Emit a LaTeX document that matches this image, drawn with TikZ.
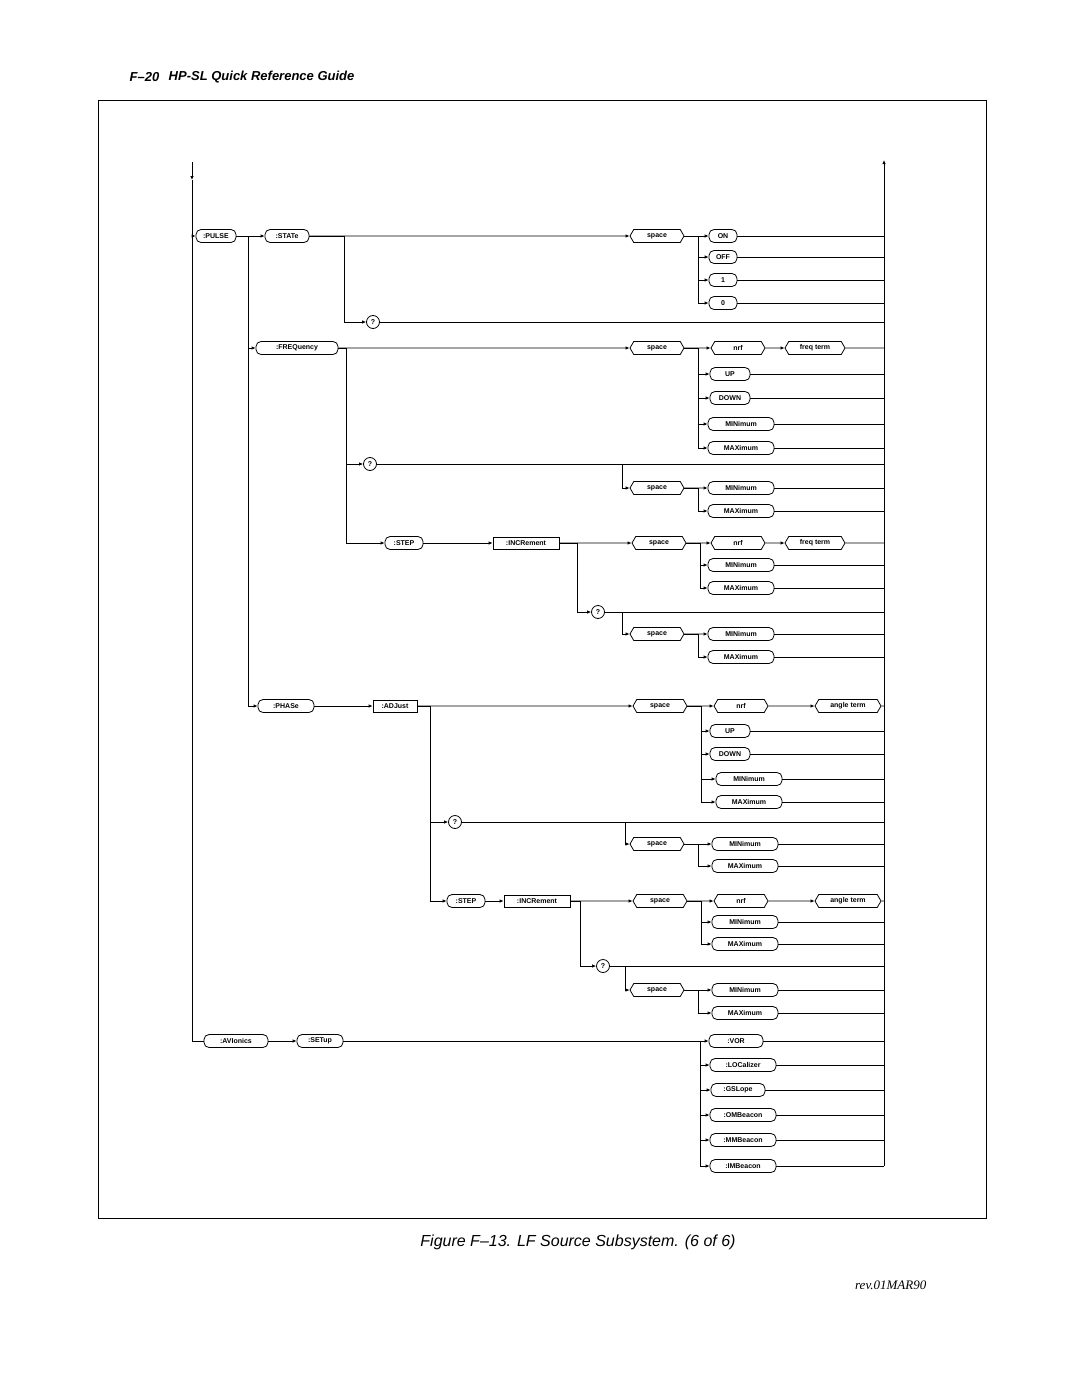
\documentclass[tikz,border=0pt]{standalone}
\usepackage{fontspec}
\setsansfont{Liberation Sans}
\setmainfont{Liberation Serif}
\usetikzlibrary{shapes.symbols,arrows.meta}
\newcommand\kwfont{\sffamily\bfseries\fontsize{7}{8}\selectfont}
\tikzset{
  kw/.style={draw, rounded corners=5pt, font=\kwfont, minimum height=13pt, inner xsep=4pt, inner ysep=1pt},
  hx/.style={draw, signal, signal to=west and east, signal pointer angle=120, font=\kwfont, minimum height=13pt, inner xsep=2pt, inner ysep=1pt},
  bx/.style={draw, font=\kwfont, minimum height=12pt, inner ysep=1pt},
  ln/.style={-{Latex[length=4pt,width=3.5pt]}},
}
\begin{document}
\begin{tikzpicture}[x=1pt, y=-1pt, line width=0.8pt]
    \useasboundingbox (0,0) rectangle (1080,1397);
    % page texts
    \node[anchor=west, font=\sffamily\bfseries\itshape\fontsize{13}{15}\selectfont] (pg) at (126,77) {F--20};
    \node[anchor=west, font=\sffamily\bfseries\itshape\fontsize{13}{15}\selectfont] (ttl) at (165,77) {HP-SL Quick Reference Guide};
    \draw (98,100) rectangle (986,1218);
    \node[font=\sffamily\itshape\fontsize{16}{18}\selectfont] (cap) at (578,1242) {Figure F--13. LF Source Subsystem. (6 of 6)};
    \node[anchor=east, font=\rmfamily\itshape\fontsize{13}{15}\selectfont] (rev) at (930,1285) {rev.01MAR90};

    \coordinate (L) at (192,0);
    \coordinate (R) at (884,0);
    \coordinate (Ltop) at (192,162);
    \coordinate (Rtop) at (884,160);
    \coordinate (Rbot) at (884,1166);

    % PULSE : STATe
    \node[kw, minimum width=40] (pulse) at (216,236) {:PULSE};
    \node[kw, minimum width=44] (state) at (287,236) {:STATe};
    \node[hx, minimum width=54] (sp1) at (657,236) {space};
    \node[kw, minimum width=28] (on) at (723,236) {ON};
    \node[kw, minimum width=28] (off) at (723,257) {OFF};
    \node[kw, minimum width=28] (one) at (723,280) {1};
    \node[kw, minimum width=28] (zero) at (723,303) {0};
    \node[kw, circle, inner sep=1pt, minimum size=13pt] (q1) at (373,322) {?};

    % FREQuency
    \node[kw, minimum width=82] (freq) at (297,348) {:FREQuency};
    \node[hx, minimum width=54] (sp2) at (657,348) {space};
    \node[hx, minimum width=54] (nrf1) at (738,348) {nrf};
    \node[hx, minimum width=60] (ft1) at (815,348) {freq term};
    \node[kw, minimum width=40] (up1) at (730,374) {UP};
    \node[kw, minimum width=40] (dn1) at (730,398) {DOWN};
    \node[kw, minimum width=66] (min1) at (741,424) {MINimum};
    \node[kw, minimum width=66] (max1) at (741,448) {MAXimum};
    \node[kw, circle, inner sep=1pt, minimum size=13pt] (q2) at (370,464) {?};
    \node[hx, minimum width=54] (sp3) at (657,488) {space};
    \node[kw, minimum width=66] (min2) at (741,488) {MINimum};
    \node[kw, minimum width=66] (max2) at (741,511) {MAXimum};
    \node[kw, minimum width=38] (step1) at (404,543) {:STEP};
    \node[bx, minimum width=66] (inc1) at (526,543) {:INCRement};
    \node[hx, minimum width=54] (sp4) at (659,543) {space};
    \node[hx, minimum width=54] (nrf2) at (738,543) {nrf};
    \node[hx, minimum width=60] (ft2) at (815,543) {freq term};
    \node[kw, minimum width=66] (min3) at (741,565) {MINimum};
    \node[kw, minimum width=66] (max3) at (741,588) {MAXimum};
    \node[kw, circle, inner sep=1pt, minimum size=13pt] (q3) at (598,612) {?};
    \node[hx, minimum width=54] (sp5) at (657,634) {space};
    \node[kw, minimum width=66] (min4) at (741,634) {MINimum};
    \node[kw, minimum width=66] (max4) at (741,657) {MAXimum};

    % PHASe
    \node[kw, minimum width=56] (phase) at (286,706) {:PHASe};
    \node[bx, minimum width=44] (adj) at (395,706) {:ADJust};
    \node[hx, minimum width=54] (sp6) at (660,706) {space};
    \node[hx, minimum width=54] (nrf3) at (741,706) {nrf};
    \node[hx, minimum width=66] (at1) at (848,706) {angle term};
    \node[kw, minimum width=40] (up2) at (730,731) {UP};
    \node[kw, minimum width=40] (dn2) at (730,754) {DOWN};
    \node[kw, minimum width=66] (min5) at (749,779) {MINimum};
    \node[kw, minimum width=66] (max5) at (749,802) {MAXimum};
    \node[kw, circle, inner sep=1pt, minimum size=13pt] (q4) at (455,822) {?};
    \node[hx, minimum width=54] (sp7) at (657,844) {space};
    \node[kw, minimum width=66] (min6) at (745,844) {MINimum};
    \node[kw, minimum width=66] (max6) at (745,866) {MAXimum};
    \node[kw, minimum width=38] (step2) at (466,901) {:STEP};
    \node[bx, minimum width=66] (inc2) at (537,901) {:INCRement};
    \node[hx, minimum width=54] (sp8) at (660,901) {space};
    \node[hx, minimum width=54] (nrf4) at (741,901) {nrf};
    \node[hx, minimum width=66] (at2) at (848,901) {angle term};
    \node[kw, minimum width=66] (min7) at (745,922) {MINimum};
    \node[kw, minimum width=66] (max7) at (745,944) {MAXimum};
    \node[kw, circle, inner sep=1pt, minimum size=13pt] (q5) at (603,966) {?};
    \node[hx, minimum width=54] (sp9) at (657,990) {space};
    \node[kw, minimum width=66] (min8) at (745,990) {MINimum};
    \node[kw, minimum width=66] (max8) at (745,1013) {MAXimum};

    % AVIonics
    \node[kw, minimum width=64] (avi) at (236,1041) {:AVIonics};
    \node[kw, minimum width=46] (setup) at (320,1041) {:SETup};
    \node[kw, minimum width=54] (vor) at (736,1041) {:VOR};
    \node[kw, minimum width=66] (loc) at (743,1065) {:LOCalizer};
    \node[kw, minimum width=54] (gs) at (738,1090) {:GSLope};
    \node[kw, minimum width=66] (om) at (743,1115) {:OMBeacon};
    \node[kw, minimum width=66] (mm) at (743,1140) {:MMBeacon};
    \node[kw, minimum width=66] (im) at (743,1166) {:IMBeacon};

    % main rails
    \draw[ln] (Ltop) -- (L |- 180,180);
    \draw (L |- 180,180) -- (L |- avi) -- (avi);
    \draw[ln] (Rbot) -- (Rtop);
    \draw[ln] (L |- pulse) -- (pulse);

    % pulse connectors
    \draw[ln] (pulse) -- (state);
    \draw[ln] (state) -- (sp1);
    \draw[ln] (sp1) -- (on);
    \draw[ln] (sp1.east) -- ++(14,0) |- (off);
    \draw[ln] (sp1.east) -- ++(14,0) |- (one);
    \draw[ln] (sp1.east) -- ++(14,0) |- (zero);
    \draw[ln] (state.east) -- ++(35,0) |- (q1);
    \draw[ln] (pulse.east) -- ++(12,0) |- (freq);
    \draw[ln] (pulse.east) -- ++(12,0) |- (phase);

    % freq connectors
    \draw[ln] (freq) -- (sp2);
    \draw[ln] (sp2) -- (nrf1);
    \draw[ln] (nrf1) -- (ft1);
    \draw[ln] (sp2.east) -- ++(14,0) |- (up1);
    \draw[ln] (sp2.east) -- ++(14,0) |- (dn1);
    \draw[ln] (sp2.east) -- ++(14,0) |- (min1);
    \draw[ln] (sp2.east) -- ++(14,0) |- (max1);
    \draw[ln] (freq.east) -- ++(8,0) |- (q2);
    \draw[ln] (freq.east) -- ++(8,0) |- (step1);
    \draw[ln] (q2.east -| 622,0) |- (sp3);
    \draw[ln] (sp3) -- (min2);
    \draw[ln] (sp3.east) -- ++(14,0) |- (max2);
    \draw[ln] (step1) -- (inc1);
    \draw[ln] (inc1) -- (sp4);
    \draw[ln] (sp4) -- (nrf2);
    \draw[ln] (nrf2) -- (ft2);
    \draw[ln] (sp4.east) -- ++(14,0) |- (min3);
    \draw[ln] (sp4.east) -- ++(14,0) |- (max3);
    \draw[ln] (inc1.east) -- ++(18,0) |- (q3);
    \draw[ln] (q3.east -| 622,0) |- (sp5);
    \draw[ln] (sp5) -- (min4);
    \draw[ln] (sp5.east) -- ++(14,0) |- (max4);

    % phase connectors
    \draw[ln] (phase) -- (adj);
    \draw[ln] (adj) -- (sp6);
    \draw[ln] (sp6) -- (nrf3);
    \draw[ln] (nrf3) -- (at1);
    \draw[ln] (sp6.east) -- ++(14,0) |- (up2);
    \draw[ln] (sp6.east) -- ++(14,0) |- (dn2);
    \draw[ln] (sp6.east) -- ++(14,0) |- (min5);
    \draw[ln] (sp6.east) -- ++(14,0) |- (max5);
    \draw[ln] (adj.east) -- ++(13,0) |- (q4);
    \draw[ln] (adj.east) -- ++(13,0) |- (step2);
    \draw[ln] (q4.east -| 625,0) |- (sp7);
    \draw[ln] (sp7) -- (min6);
    \draw[ln] (sp7.east) -- ++(14,0) |- (max6);
    \draw[ln] (step2) -- (inc2);
    \draw[ln] (inc2) -- (sp8);
    \draw[ln] (sp8) -- (nrf4);
    \draw[ln] (nrf4) -- (at2);
    \draw[ln] (sp8.east) -- ++(14,0) |- (min7);
    \draw[ln] (sp8.east) -- ++(14,0) |- (max7);
    \draw[ln] (inc2.east) -- ++(10,0) |- (q5);
    \draw[ln] (q5.east -| 625,0) |- (sp9);
    \draw[ln] (sp9) -- (min8);
    \draw[ln] (sp9.east) -- ++(14,0) |- (max8);

    % avionics connectors
    \draw[ln] (avi) -- (setup);
    \draw[ln] (setup) -- (vor);
    \draw[ln] (vor.west -| 700,0) |- (loc);
    \draw[ln] (vor.west -| 700,0) |- (gs);
    \draw[ln] (vor.west -| 700,0) |- (om);
    \draw[ln] (vor.west -| 700,0) |- (mm);
    \draw[ln] (vor.west -| 700,0) |- (im);

    % exits to right rail
    \draw (on) -- (on -| R);
    \draw (off) -- (off -| R);
    \draw (one) -- (one -| R);
    \draw (zero) -- (zero -| R);
    \draw (q1) -- (q1 -| R);
    \draw (ft1) -- (ft1 -| R);
    \draw (up1) -- (up1 -| R);
    \draw (dn1) -- (dn1 -| R);
    \draw (min1) -- (min1 -| R);
    \draw (max1) -- (max1 -| R);
    \draw (q2) -- (q2 -| R);
    \draw (min2) -- (min2 -| R);
    \draw (max2) -- (max2 -| R);
    \draw (ft2) -- (ft2 -| R);
    \draw (min3) -- (min3 -| R);
    \draw (max3) -- (max3 -| R);
    \draw (q3) -- (q3 -| R);
    \draw (min4) -- (min4 -| R);
    \draw (max4) -- (max4 -| R);
    \draw (at1) -- (at1 -| R);
    \draw (up2) -- (up2 -| R);
    \draw (dn2) -- (dn2 -| R);
    \draw (min5) -- (min5 -| R);
    \draw (max5) -- (max5 -| R);
    \draw (q4) -- (q4 -| R);
    \draw (min6) -- (min6 -| R);
    \draw (max6) -- (max6 -| R);
    \draw (at2) -- (at2 -| R);
    \draw (min7) -- (min7 -| R);
    \draw (max7) -- (max7 -| R);
    \draw (q5) -- (q5 -| R);
    \draw (min8) -- (min8 -| R);
    \draw (max8) -- (max8 -| R);
    \draw (vor) -- (vor -| R);
    \draw (loc) -- (loc -| R);
    \draw (gs) -- (gs -| R);
    \draw (om) -- (om -| R);
    \draw (mm) -- (mm -| R);
    \draw (im) -- (im -| R);
\end{tikzpicture}
\end{document}
